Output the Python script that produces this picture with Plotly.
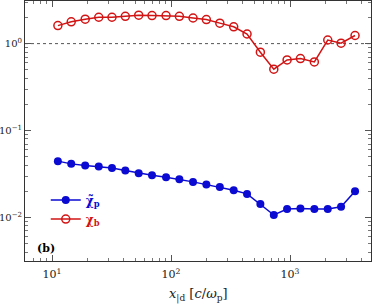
import plotly.graph_objects as go

x_d = [11.2, 14.5, 19.0, 24.7, 31.9, 41.3, 53.5, 69.2, 90.8, 117.5, 153, 198, 257,
       336, 435, 563, 730, 944, 1222, 1600, 2073, 2683, 3515]
chi_p = [0.0445, 0.0414, 0.0396, 0.0386, 0.0370, 0.0347, 0.0324, 0.0307, 0.0291,
         0.0276, 0.0257, 0.0239, 0.0224, 0.0206, 0.0187, 0.0143, 0.0107, 0.0125,
         0.0127, 0.0125, 0.0125, 0.0133, 0.0201]
chi_b = [1.61, 1.78, 1.91, 2.01, 2.01, 2.06, 2.12, 2.10, 2.10, 2.06, 1.97, 1.89,
         1.72, 1.56, 1.29, 0.797, 0.508, 0.650, 0.673, 0.616, 1.10, 1.01, 1.24]

x_ticks = [10, 100, 1000]
x_ticktext = ["10<sup>1</sup>", "10<sup>2</sup>", "10<sup>3</sup>"]
y_ticks = [0.01, 0.1, 1]
y_ticktext = ["10<sup>−2</sup>", "10<sup>−1</sup>", "10<sup>0</sup>"]
x_minor = [m * 10 ** e for e in range(0, 4) for m in range(2, 10)]
y_minor = [m * 10.0 ** e for e in range(-3, 1) for m in range(2, 10)]

BLUE = "#0a0ad2"
RED = "#d21414"
FONT = "DejaVu Serif"

fig = go.Figure()
fig.add_trace(go.Scatter(
    x=x_d, y=chi_p, mode="lines+markers",
    name="<span style='color:%s'><b>χ̃<sub>p</sub></b></span>" % BLUE,
    line=dict(color=BLUE, width=1.5),
    marker=dict(color=BLUE, size=8, symbol="circle"),
))
fig.add_trace(go.Scatter(
    x=x_d, y=chi_b, mode="lines+markers",
    name="<span style='color:%s'><b>χ<sub>b</sub></b></span>" % RED,
    line=dict(color=RED, width=1.5),
    marker=dict(color=RED, size=8, symbol="circle-open", line=dict(width=1.5)),
))

fig.add_shape(type="line", xref="paper", yref="y", x0=0, x1=1, y0=1, y1=1,
              line=dict(color="#555555", width=1, dash="dot"), layer="below")

fig.add_annotation(text="<b>(b)</b>", xref="paper", yref="paper", x=0.03, y=0.05,
                   xanchor="left", yanchor="middle", showarrow=False,
                   font=dict(family=FONT, size=11, color="black"))

fig.add_annotation(text="<i>x</i><sub>|d</sub> [<i>c</i>/<i>ω</i><sub>p</sub>]",
                   xref="paper", yref="paper", x=0.5, y=-0.13,
                   xanchor="center", yanchor="middle", showarrow=False,
                   font=dict(family=FONT, size=13, color="#222222"))

axis_common = dict(
    type="log", showgrid=False, zeroline=False, showline=True, linecolor="#333333",
    linewidth=1, mirror="allticks", ticks="inside", ticklen=6, tickcolor="#555555",
    automargin=False,
)

fig.update_xaxes(range=[0.773, 3.68], tickvals=x_ticks, ticktext=x_ticktext,
                 minor=dict(ticks="inside", ticklen=3, tickcolor="#777777",
                            showgrid=False, tickvals=x_minor),
                 tickfont=dict(family=FONT, size=11, color="#222222"),
                 ticklabelstandoff=3, **axis_common)
fig.update_yaxes(range=[-2.5, 0.49], tickvals=y_ticks, ticktext=y_ticktext,
                 minor=dict(ticks="inside", ticklen=3, tickcolor="#777777",
                            showgrid=False, tickvals=y_minor),
                 tickfont=dict(family=FONT, size=10, color="#222222"),
                 ticklabelstandoff=0, **axis_common)

fig.update_layout(
    width=374, height=307,
    margin=dict(l=25, r=3, t=1, b=46),
    paper_bgcolor="white", plot_bgcolor="white",
    font=dict(family=FONT, size=12, color="#222222"),
    showlegend=True,
    legend=dict(x=0.06, y=0.29, xanchor="left", yanchor="top",
                bgcolor="rgba(0,0,0,0)", font=dict(family=FONT, size=12),
                tracegroupgap=0, itemwidth=30),
)

fig.write_html("out.html", config={"displayModeBar": False},
               post_script="document.body.style.margin='0';document.body.style.overflow='hidden';")
